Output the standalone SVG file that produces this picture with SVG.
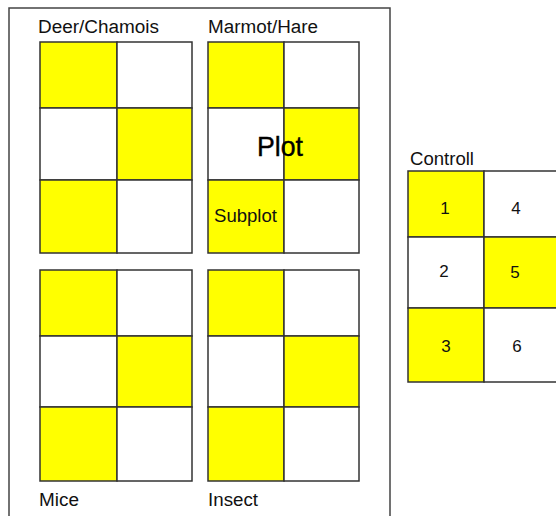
<svg xmlns="http://www.w3.org/2000/svg" width="556" height="516" viewBox="0 0 556 516">
<style>
.y{fill:#ffff00;stroke:#333;stroke-width:1.5}
.w{fill:#ffffff;stroke:#333;stroke-width:1.5}
.frame{fill:none;stroke:#444;stroke-width:1.5}
.lbl{font-family:"Liberation Sans",Arial,sans-serif;font-size:18px;fill:#111}
.num{font-family:"Liberation Sans",Arial,sans-serif;font-size:17px;fill:#111;text-anchor:middle}
.big{font-family:"Liberation Sans",Arial,sans-serif;font-size:28px;fill:#000;text-anchor:middle;stroke:#000;stroke-width:0.4}
</style>
<rect width="556" height="516" fill="#ffffff"/>
<g id="frame"><path class="frame" d="M9,520 V8 H390 V520"/></g>
<g id="deer">
<rect class="y" x="40" y="42" width="77" height="66"/>
<rect class="w" x="117" y="42" width="75" height="66"/>
<rect class="w" x="40" y="108" width="77" height="72"/>
<rect class="y" x="117" y="108" width="75" height="72"/>
<rect class="y" x="40" y="180" width="77" height="73"/>
<rect class="w" x="117" y="180" width="75" height="73"/>
<text class="lbl" x="38" y="33" textLength="121" lengthAdjust="spacingAndGlyphs">Deer/Chamois</text>
</g>
<g id="marmot">
<rect class="y" x="208" y="42" width="76" height="66"/>
<rect class="w" x="284" y="42" width="75" height="66"/>
<rect class="w" x="208" y="108" width="76" height="72"/>
<rect class="y" x="284" y="108" width="75" height="72"/>
<rect class="y" x="208" y="180" width="76" height="73"/>
<rect class="w" x="284" y="180" width="75" height="73"/>
<text class="lbl" x="208" y="33" textLength="110" lengthAdjust="spacingAndGlyphs">Marmot/Hare</text>
<text class="big" x="280" y="156" textLength="46" lengthAdjust="spacingAndGlyphs">Plot</text>
<text class="lbl" x="214" y="222" textLength="63" lengthAdjust="spacingAndGlyphs">Subplot</text>
</g>
<g id="mice">
<rect class="y" x="40" y="270" width="77" height="66"/>
<rect class="w" x="117" y="270" width="75" height="66"/>
<rect class="w" x="40" y="336" width="77" height="71"/>
<rect class="y" x="117" y="336" width="75" height="71"/>
<rect class="y" x="40" y="407" width="77" height="74"/>
<rect class="w" x="117" y="407" width="75" height="74"/>
<text class="lbl" x="39" y="506" textLength="40" lengthAdjust="spacingAndGlyphs">Mice</text>
</g>
<g id="insect">
<rect class="y" x="208" y="270" width="76" height="66"/>
<rect class="w" x="284" y="270" width="75" height="66"/>
<rect class="w" x="208" y="336" width="76" height="71"/>
<rect class="y" x="284" y="336" width="75" height="71"/>
<rect class="y" x="208" y="407" width="76" height="74"/>
<rect class="w" x="284" y="407" width="75" height="74"/>
<text class="lbl" x="208" y="506" textLength="50" lengthAdjust="spacingAndGlyphs">Insect</text>
</g>
<g id="controll">
<rect class="y" x="408" y="171" width="76" height="66"/>
<rect class="w" x="484" y="171" width="80" height="66"/>
<rect class="w" x="408" y="237" width="76" height="71"/>
<rect class="y" x="484" y="237" width="80" height="71"/>
<rect class="y" x="408" y="308" width="76" height="74"/>
<rect class="w" x="484" y="308" width="80" height="74"/>
<text class="lbl" x="410" y="165" textLength="64" lengthAdjust="spacingAndGlyphs">Controll</text>
<text class="num" x="445" y="214">1</text>
<text class="num" x="516" y="214">4</text>
<text class="num" x="444" y="277">2</text>
<text class="num" x="515" y="278">5</text>
<text class="num" x="446" y="352">3</text>
<text class="num" x="517" y="352">6</text>
</g>
<g id="connectors"></g>
</svg>
